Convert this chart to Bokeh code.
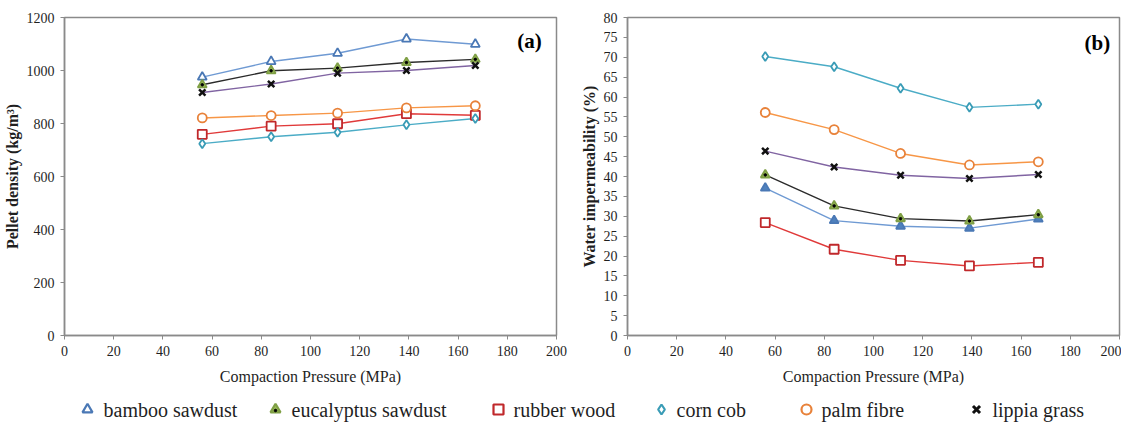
from bokeh.plotting import figure
from bokeh.models import Range1d, FixedTicker, Label
from bokeh.layouts import column, row
from bokeh.embed import file_html
from bokeh.resources import INLINE
from bokeh.core.properties import value

# ---------------- data ----------------
pressure = [56, 84, 111, 139, 167]
series_names = ["bamboo sawdust", "eucalyptus sawdust", "rubber wood",
                "corn cob", "palm fibre", "lippia grass"]

# (a) pellet density, kg/m3
density_bamboo = [975, 1034, 1065, 1119, 1099]
density_eucalyptus = [946, 999, 1009, 1030, 1042]
density_rubber = [759, 790, 799, 837, 831]
density_corn = [724, 750, 767, 795, 819]
density_palm = [821, 830, 839, 859, 867]
density_lippia = [917, 949, 990, 1000, 1019]

# (b) water impermeability, %
imperm_bamboo = [37.1, 28.9, 27.5, 27.0, 29.3]
imperm_eucalyptus = [40.4, 32.6, 29.4, 28.8, 30.4]
imperm_rubber = [28.4, 21.7, 18.9, 17.5, 18.4]
imperm_corn = [70.2, 67.6, 62.2, 57.4, 58.2]
imperm_palm = [56.1, 51.8, 45.8, 42.9, 43.7]
imperm_lippia = [46.4, 42.4, 40.3, 39.5, 40.5]

x_ticks = [0, 20, 40, 60, 80, 100, 120, 140, 160, 180, 200]
density_ticks = [0, 200, 400, 600, 800, 1000, 1200]
imperm_ticks = list(range(0, 81, 5))

# ---------------- styles ----------------
FONT = "Times New Roman, Liberation Serif, DejaVu Serif, serif"
AXIS_COL = "#8a8a8a"
TEXT_COL = "#1f1f1f"

styles = {
    "bamboo sawdust": dict(line="#6f9ad3", marker="triangle", mline="#4a78b5", fill="white"),
    "eucalyptus sawdust": dict(line="#2b2b2b", marker="triangle", mline="#7f9f45", fill="#9bbb59", dot=True),
    "rubber wood": dict(line="#e03a3a", marker="square", mline="#c0282b", fill="white"),
    "corn cob": dict(line="#4bacc6", marker="diamond", mline="#3a9cb6", fill="white"),
    "palm fibre": dict(line="#f79646", marker="circle", mline="#e8823a", fill="white"),
    "lippia grass": dict(line="#8064a2", marker="x", mline="#111111", fill="white"),
}

PH = 392


def make_fig(width, bl, br, y_end, yticks, ylabel, data, panel, px, py, bamboo_fill):
    p = figure(width=width, height=PH, output_backend="svg", toolbar_location=None,
               x_range=Range1d(0, 200), y_range=Range1d(0, y_end),
               min_border_left=bl, min_border_right=br, min_border_top=17,
               min_border_bottom=57)
    p.grid.visible = False
    p.outline_line_color = AXIS_COL
    p.outline_line_width = 1.5
    for ax in (p.xaxis[0], p.yaxis[0]):
        ax.axis_line_color = AXIS_COL
        ax.axis_line_width = 1.5
        ax.major_tick_line_color = AXIS_COL
        ax.major_tick_out = 4
        ax.major_tick_in = 0
        ax.minor_tick_line_color = None
        ax.major_label_text_font = FONT
        ax.major_label_text_font_size = "14px"
        ax.major_label_text_color = TEXT_COL
        ax.axis_label_text_font = FONT
        ax.axis_label_text_color = TEXT_COL
    p.xaxis.ticker = FixedTicker(ticks=x_ticks)
    p.yaxis.ticker = FixedTicker(ticks=yticks)
    p.xaxis.axis_label = "Compaction Pressure (MPa)"
    p.xaxis.axis_label_text_font_size = "16px"
    p.xaxis.axis_label_text_font_style = "normal"
    p.xaxis.axis_label_standoff = 9
    p.xaxis.major_label_standoff = 6
    p.yaxis.axis_label = ylabel
    p.yaxis.axis_label_text_font_size = "16px"
    p.yaxis.axis_label_text_font_style = "bold"
    p.yaxis.axis_label_standoff = 3
    p.yaxis.major_label_standoff = 6

    for name, ys in zip(series_names, data):
        st = styles[name]
        p.line(pressure, ys, line_color=st["line"], line_width=1.4)
    for name, ys in zip(series_names, data):
        st = styles[name]
        fill = st["fill"]
        if name == "bamboo sawdust" and bamboo_fill:
            fill = "#4f81bd"
        if st["marker"] == "x":
            p.scatter(pressure, ys, marker="x", size=9, line_color=st["mline"], line_width=2.5)
        else:
            p.scatter(pressure, ys, marker=st["marker"], size=9, line_color=st["mline"],
                      line_width=1.8, fill_color=fill)
        if st.get("dot"):
            p.scatter(pressure, ys, marker="circle", size=2.5, fill_color="black",
                      line_color="black")
    p.add_layout(Label(x=px, y=py, text=panel, text_font=FONT, text_font_size="21px",
                       text_font_style="bold", text_color="black",
                       text_align="center", text_baseline="middle"))
    return p


p1 = make_fig(573, 60, 17, 1200, density_ticks, "Pellet density (kg/m³)",
              [density_bamboo, density_eucalyptus, density_rubber, density_corn,
               density_palm, density_lippia], "(a)", 189, 1110, False)
p2 = make_fig(548, 54, 2, 80, imperm_ticks, "Water impermeability (%)",
              [imperm_bamboo, imperm_eucalyptus, imperm_rubber, imperm_corn,
               imperm_palm, imperm_lippia], "(b)", 191, 73.5, True)

# ---------------- legend strip ----------------
LW, LH = 1121, 30
leg = figure(width=LW, height=LH, output_backend="svg", toolbar_location=None,
             x_range=Range1d(0, LW), y_range=Range1d(0, LH),
             min_border=0, x_axis_type=None, y_axis_type=None)
leg.grid.visible = False
leg.outline_line_color = None
leg_marker_x = [87, 275, 498, 661, 806, 976]
leg_text_x = [103, 291, 513, 676, 821, 992]
ly = 13
for name, mx, tx in zip(series_names, leg_marker_x, leg_text_x):
    st = styles[name]
    if st["marker"] == "x":
        leg.scatter([mx], [ly], marker="x", size=10, line_color=st["mline"], line_width=3)
    else:
        leg.scatter([mx], [ly], marker=st["marker"], size=10, line_color=st["mline"],
                    line_width=2.2, fill_color=st["fill"])
    if st.get("dot"):
        leg.scatter([mx], [ly - 1], marker="circle", size=2.5, fill_color="black",
                    line_color="black")
    leg.text([tx], [ly], text=[name], text_font=value(FONT), text_font_size="20px",
             text_color=TEXT_COL, text_baseline="middle", text_align="left")

layout = column(row(p1, p2), leg)
open("out.html", "w").write(file_html(layout, INLINE))
